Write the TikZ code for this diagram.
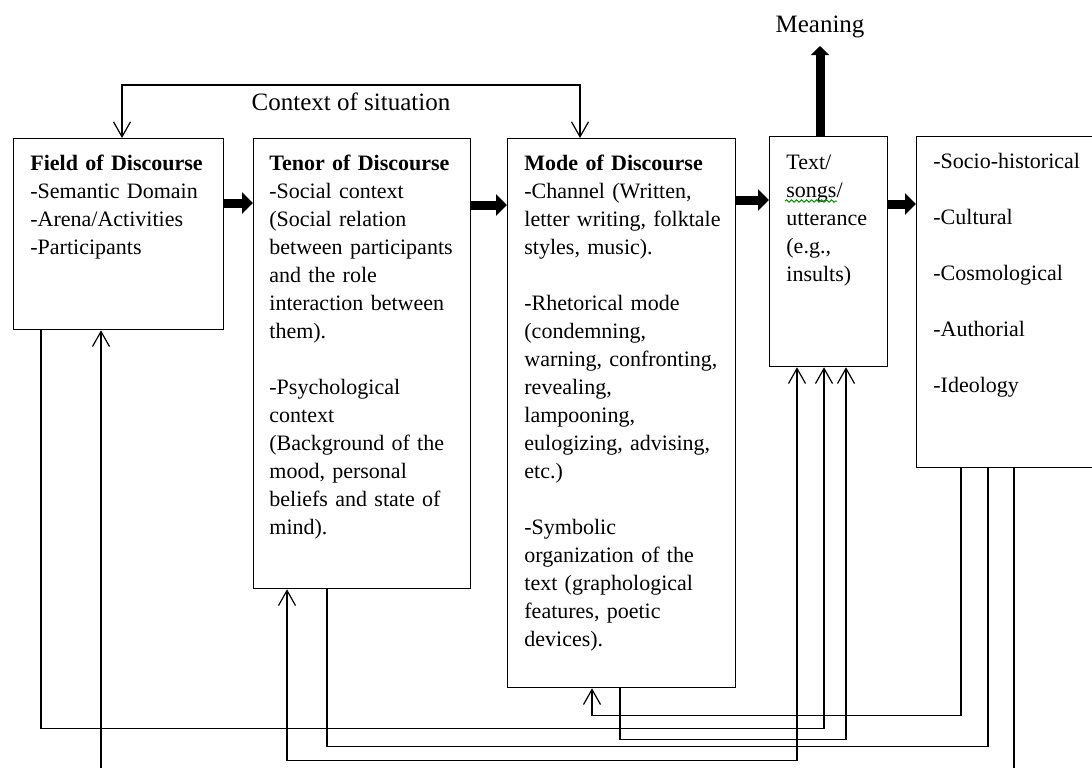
\documentclass[tikz,border=0pt]{standalone}
\usepackage{fontspec}
\setmainfont{Liberation Serif}
\usetikzlibrary{arrows.meta,calc,decorations.pathmorphing}
\newcommand{\emptyrow}{\\[14pt]}
\begin{document}
\begin{tikzpicture}[x=0.5pt,y=-0.5pt,
  panel/.style={draw=black,line width=0.65pt,fill=white,inner sep=0pt,anchor=north west},
  txt/.style={anchor=base west,inner sep=0pt,text width=125pt,align=left,font=\fontsize{11}{14}\selectfont},
  headtext/.style={font=\fontsize{12.5}{15}\selectfont,inner sep=0pt},
  conn/.style={draw=black,line width=0.6pt},
  barb/.tip={Straight Barb[length=7.5pt,width=8.5pt]},
  bigarrow/.style={line width=4.5pt,-{Triangle[length=5.5pt,width=10.5pt]}}]
\useasboundingbox (0,0) rectangle (1092,767);
\clip (0,0) rectangle (1092,767);

% boxes
\node[panel,minimum width=105pt,minimum height=95.5pt] (field) at (13,138) {};
\node[panel,minimum width=108.5pt,minimum height=225pt] (tenor) at (253,138) {};
\node[panel,minimum width=114pt,minimum height=274.5pt] (mode) at (507,138) {};
\node[panel,minimum width=59pt,minimum height=115pt] (textb) at (769,136) {};
\node[panel,minimum width=100pt,minimum height=165.5pt] (socio) at (916,136) {};

% box contents
\node[txt] (fieldtxt) at ($(field.north west)+(17,32)$)
  {\textbf{Field of Discourse}\\-Semantic Domain\\-Arena/Activities\\-Participants};
\node[txt] (tenortxt) at ($(tenor.north west)+(16,32)$)
  {\textbf{Tenor of Discourse}\\-Social context\\(Social relation\\between participants\\and the role\\interaction between\\them).\emptyrow
   -Psychological\\context\\(Background of the\\mood, personal\\beliefs and state of\\mind).};
\node[txt] (modetxt) at ($(mode.north west)+(17,32)$)
  {\textbf{Mode of Discourse}\\-Channel (Written,\\letter writing, folktale\\styles, music).\emptyrow
   -Rhetorical mode\\(condemning,\\warning, confronting,\\revealing,\\lampooning,\\eulogizing, advising,\\etc.)\emptyrow
   -Symbolic\\organization of the\\text (graphological\\features, poetic\\devices).};
\node[txt] (texttxt) at ($(textb.north west)+(17,33)$)
  {Text/\\songs/\\utterance\\(e.g.,\\insults)};
\node[txt] (sociotxt) at ($(socio.north west)+(17,32)$)
  {-Socio-historical\emptyrow-Cultural\emptyrow-Cosmological\emptyrow-Authorial\emptyrow-Ideology};
\draw[decorate,decoration={snake,amplitude=0.6pt,segment length=2.5pt},draw=green!60!black,line width=0.5pt]
  ($(textb.north west)+(16,65)$) -- ($(textb.north west)+(68,65)$);

% flow between the boxes
\draw[bigarrow] ($(field.north east)+(0,65)$) -- ($(tenor.north west)+(0,65)$);
\draw[bigarrow] ($(tenor.north east)+(0,67)$) -- ($(mode.north west)+(0,67)$);
\draw[bigarrow] ($(mode.north east)+(0,62)$) -- ($(textb.north west)+(0,64)$);
\draw[bigarrow] ($(textb.north east)+(0,68)$) -- ($(socio.north west)+(0,68)$);

% meaning
\node[headtext] (meaning) at (820,27) {Meaning};
\draw[bigarrow,-{Triangle[length=4.5pt,width=9pt]}] ($(textb.north west)+(51,0)$) -- ++(0,-90);

% context of situation
\node[headtext] (ctx) at (351,102) {Context of situation};
\draw[conn,barb-barb] ($(field.north west)+(109,0)$) -- ++(0,-53) -| ($(mode.north west)+(73,0)$);

% feedback lines along the bottom
\draw[conn,-barb] ($(field.south west)+(28,0)$) -- ++(0,398) -| ($(textb.south west)+(55,0)$);
\draw[conn,-barb] ($(socio.south west)+(98,0)$) -- ++(0,313) -| ($(field.south west)+(88,0)$);
\draw[conn,-barb] ($(socio.south west)+(45,0)$) -- ++(0,247) -| ($(mode.south west)+(85,0)$);
\draw[conn,-barb] ($(mode.south west)+(113,0)$) -- ++(0,51) -| ($(textb.south west)+(77,0)$);
\draw[conn] ($(tenor.south west)+(74,0)$) -- ++(0,157) -| ($(socio.south west)+(72,0)$);
\draw[conn,barb-barb] ($(textb.south west)+(28,0)$) -- ++(0,393) -| ($(tenor.south west)+(34,0)$);
\end{tikzpicture}
\end{document}
